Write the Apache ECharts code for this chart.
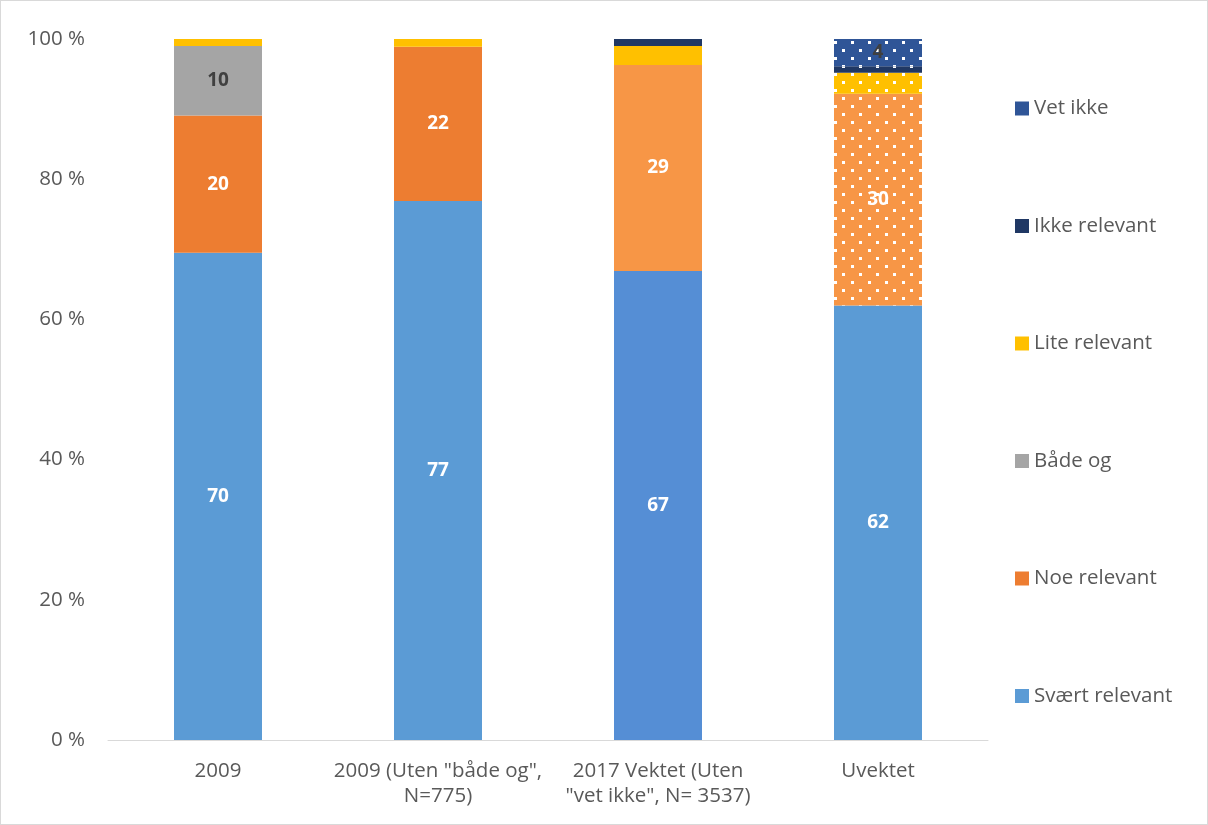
<!DOCTYPE html>
<html><head><meta charset="utf-8">
<script src="https://cdn.jsdelivr.net/npm/echarts@6/dist/echarts.min.js"></script>
<style>
html,body{margin:0;padding:0;background:#fff;}
#c{width:1208px;height:825px;box-sizing:border-box;border:1px solid #d9d9d9;}
</style></head>
<body><div id="c"></div>
<script>
const categories = ['2009', '2009 (Uten "både og",\nN=775)', '2017 Vektet (Uten\n"vet ikke", N= 3537)', 'Uvektet'];
const seriesNames = ['Svært relevant', 'Noe relevant', 'Både og', 'Lite relevant', 'Ikke relevant', 'Vet ikke'];
const svaertRelevant = [69.5, 76.9, 66.9, 62.0];
const noeRelevant = [19.6, 22.0, 29.4, 30.2];
const badeOg = [9.9, null, null, null];
const liteRelevant = [1.0, 1.1, 2.7, 3.0];
const ikkeRelevant = [null, null, 1.0, 0.9];
const vetIkke = [null, null, null, 3.9];
const yTicks = [0, 20, 40, 60, 80, 100];

const values = [svaertRelevant, noeRelevant, badeOg, liteRelevant, ikkeRelevant, vetIkke];
const colors = ['#5B9BD5', '#ED7D31', '#A5A5A5', '#FFC000', '#203864', '#2F5597'];
const altColors = { 0: '#558ED5', 1: '#F79646' }; // 2017 Vektet
const uvColors = { 1: '#F79646' };
const labelColors = ['#ffffff', '#ffffff', '#404040', '#404040', '#ffffff', '#404040'];
const FONT = '"Open Sans", Lato, sans-serif';

const decal = {
  symbol: 'rect', symbolSize: 1, color: '#ffffff',
  dashArrayX: [[3, 14], [0, 8, 3, 6]], dashArrayY: [3, 5], rotation: 0
};

const series = seriesNames.map((name, si) => ({
  name, type: 'bar', stack: 'total', barWidth: '40%',
  itemStyle: { color: colors[si] },
  label: {
    show: true, position: 'inside', color: labelColors[si],
    fontFamily: FONT, fontWeight: 'bold', fontSize: 19,
    formatter: p => (p.value != null && p.value >= 3.5) ? String(Math.round(p.value)) : ''
  },
  emphasis: { disabled: true },
  data: values[si].map((v, ci) => {
    const item = { value: v, itemStyle: {} };
    if (ci === 2 && altColors[si]) item.itemStyle.color = altColors[si];
    if (ci === 3) {
      if (uvColors[si]) item.itemStyle.color = uvColors[si];
      if (si !== 0) item.itemStyle.decal = decal;
    }
    return item;
  })
}));

const chart = echarts.init(document.getElementById('c'), null, { renderer: 'canvas' });
chart.setOption({
  animation: false,
  textStyle: { fontFamily: FONT },
  grid: { left: 107, right: 219, top: 38, bottom: 84, containLabel: false },
  legend: {
    orient: 'vertical', left: 1009, top: 92, itemGap: 96.5,
    itemWidth: 14, itemHeight: 14, icon: 'rect',
    data: seriesNames.slice().reverse(),
    textStyle: { fontFamily: FONT, fontSize: 20.5, color: '#595959', lineHeight: 20 }
  },
  xAxis: {
    type: 'category', data: categories,
    axisLine: { lineStyle: { color: '#D9D9D9', width: 1 } },
    axisTick: { show: false },
    axisLabel: { fontFamily: FONT, fontSize: 20.5, color: '#595959', lineHeight: 25, margin: 19, interval: 0 }
  },
  yAxis: {
    type: 'value', min: 0, max: 100, interval: 20,
    axisLine: { show: false }, axisTick: { show: false }, splitLine: { show: false },
    axisLabel: { fontFamily: FONT, fontSize: 20.5, color: '#595959', margin: 23,
      formatter: v => yTicks.includes(v) ? v + ' %' : '' }
  },
  series
});
</script></body></html>
